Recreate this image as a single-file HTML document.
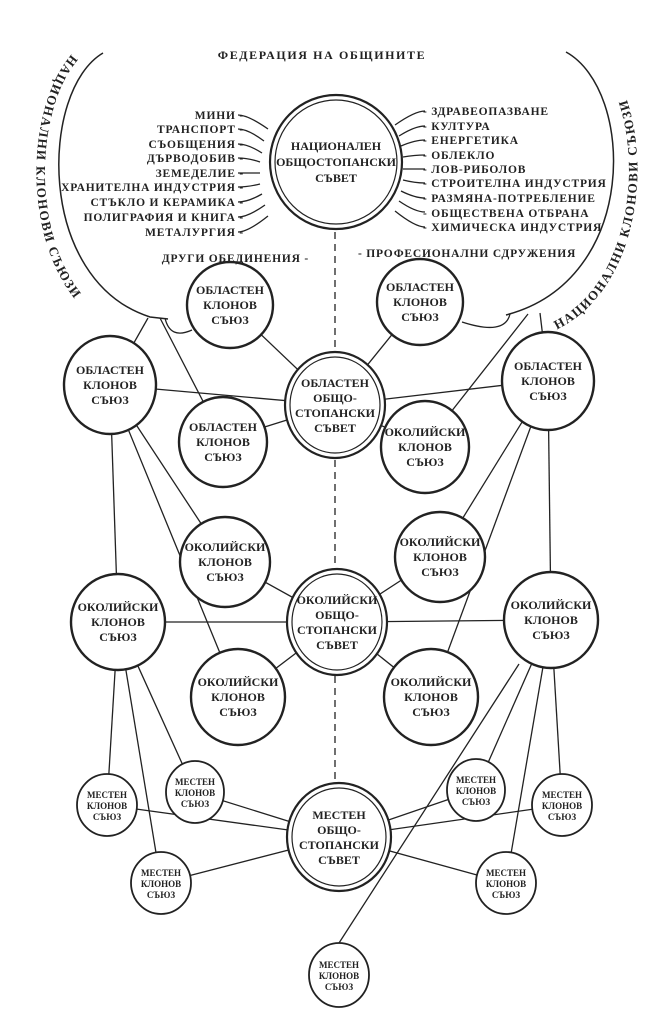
<!DOCTYPE html>
<html><head><meta charset="utf-8"><style>
html,body{margin:0;padding:0;background:#fff;}
svg{display:block;}
text{font-family:"Liberation Serif",serif;font-weight:bold;fill:#222;}
</style></head><body>
<svg width="670" height="1030" viewBox="0 0 670 1030" xmlns="http://www.w3.org/2000/svg">
<g stroke="#222" fill="none" stroke-width="1.3">
<path d="M103,53 C40,90 35,280 150,317 L168,319" stroke-width="1.5"/>
<path d="M566,52 C635,90 640,280 506,315" stroke-width="1.5"/>
<path d="M165,318 Q170,340 192,330"/>
<path d="M510,314 Q505,336 462,322"/>
<line x1="335" y1="232" x2="335" y2="790" stroke-dasharray="7,5"/>
<line x1="148" y1="318" x2="110" y2="385"/>
<line x1="160" y1="318" x2="223" y2="440"/>
<line x1="540" y1="313" x2="548" y2="380"/>
<line x1="528" y1="314" x2="425" y2="445"/>
<line x1="110" y1="385" x2="335" y2="405"/>
<line x1="548" y1="380" x2="335" y2="405"/>
<line x1="230" y1="305" x2="335" y2="405"/>
<line x1="420" y1="300" x2="335" y2="405"/>
<line x1="223" y1="440" x2="335" y2="405"/>
<line x1="425" y1="445" x2="335" y2="405"/>
<line x1="110" y1="385" x2="225" y2="560"/>
<line x1="110" y1="385" x2="238" y2="697"/>
<line x1="110" y1="385" x2="118" y2="622"/>
<line x1="548" y1="380" x2="440" y2="555"/>
<line x1="548" y1="380" x2="431" y2="697"/>
<line x1="548" y1="380" x2="551" y2="620"/>
<line x1="337" y1="622" x2="225" y2="560"/>
<line x1="337" y1="622" x2="440" y2="555"/>
<line x1="337" y1="622" x2="118" y2="622"/>
<line x1="337" y1="622" x2="551" y2="620"/>
<line x1="337" y1="622" x2="238" y2="697"/>
<line x1="337" y1="622" x2="431" y2="697"/>
<line x1="118" y1="622" x2="107" y2="805"/>
<line x1="118" y1="622" x2="161" y2="883"/>
<line x1="118" y1="622" x2="195" y2="792"/>
<line x1="551" y1="620" x2="476" y2="790"/>
<line x1="551" y1="620" x2="562" y2="805"/>
<line x1="551" y1="620" x2="506" y2="883"/>
<line x1="339" y1="837" x2="107" y2="805"/>
<line x1="339" y1="837" x2="161" y2="883"/>
<line x1="339" y1="837" x2="195" y2="792"/>
<line x1="339" y1="837" x2="476" y2="790"/>
<line x1="339" y1="837" x2="562" y2="805"/>
<line x1="339" y1="837" x2="506" y2="883"/>
<path d="M238,115 q10,0 30,14"/>
<path d="M238,129 q10,0 26,12"/>
<path d="M238,144 q10,0 24,9"/>
<path d="M238,158 q10,0 22,4"/>
<path d="M238,173 h22"/>
<path d="M238,187 q10,0 22,-3"/>
<path d="M238,202 q10,0 24,-8"/>
<path d="M238,217 q10,0 27,-12"/>
<path d="M238,232 q10,0 30,-16"/>
<path d="M425,111 q-10,0 -30,14"/>
<path d="M425,126 q-10,0 -26,10"/>
<path d="M425,140 q-10,0 -24,6"/>
<path d="M425,155 q-10,0 -22,2"/>
<path d="M425,169 h-22"/>
<path d="M425,183 q-10,0 -22,-3"/>
<path d="M425,198 q-10,0 -24,-7"/>
<path d="M425,212 q-10,0 -26,-11"/>
<path d="M425,227 q-10,0 -30,-16"/>
</g>

<g stroke="#222" fill="#fff">
<ellipse cx="336" cy="162" rx="66" ry="67" stroke-width="2.2"/>
<ellipse cx="336" cy="162" rx="61" ry="62" stroke-width="1.2"/>
<ellipse cx="230" cy="305" rx="43" ry="43" stroke-width="2.4"/>
<ellipse cx="420" cy="302" rx="43" ry="43" stroke-width="2.4"/>
<ellipse cx="110" cy="385" rx="46" ry="49" stroke-width="2.4"/>
<ellipse cx="548" cy="381" rx="46" ry="49" stroke-width="2.4"/>
<ellipse cx="335" cy="405" rx="50" ry="53" stroke-width="2.2"/>
<ellipse cx="335" cy="405" rx="45" ry="48" stroke-width="1.2"/>
<ellipse cx="223" cy="442" rx="44" ry="45" stroke-width="2.4"/>
<ellipse cx="425" cy="447" rx="44" ry="46" stroke-width="2.4"/>
<ellipse cx="225" cy="562" rx="45" ry="45" stroke-width="2.4"/>
<ellipse cx="440" cy="557" rx="45" ry="45" stroke-width="2.4"/>
<ellipse cx="118" cy="622" rx="47" ry="48" stroke-width="2.4"/>
<ellipse cx="337" cy="622" rx="50" ry="53" stroke-width="2.2"/>
<ellipse cx="337" cy="622" rx="45" ry="48" stroke-width="1.2"/>
<ellipse cx="551" cy="620" rx="47" ry="48" stroke-width="2.4"/>
<ellipse cx="238" cy="697" rx="47" ry="48" stroke-width="2.4"/>
<ellipse cx="431" cy="697" rx="47" ry="48" stroke-width="2.4"/>
<ellipse cx="339" cy="837" rx="52" ry="54" stroke-width="2.2"/>
<ellipse cx="339" cy="837" rx="47" ry="49" stroke-width="1.2"/>
<ellipse cx="107" cy="805" rx="30" ry="31" stroke-width="1.8"/>
<ellipse cx="195" cy="792" rx="29" ry="31" stroke-width="1.8"/>
<ellipse cx="161" cy="883" rx="30" ry="31" stroke-width="1.8"/>
<ellipse cx="476" cy="790" rx="29" ry="31" stroke-width="1.8"/>
<ellipse cx="562" cy="805" rx="30" ry="31" stroke-width="1.8"/>
<ellipse cx="506" cy="883" rx="30" ry="31" stroke-width="1.8"/>
<ellipse cx="339" cy="975" rx="30" ry="32" stroke-width="1.8"/>
</g>
<line x1="519" y1="664" x2="339" y2="943" stroke="#222" stroke-width="1.3"/>

<g font-size="11.5" letter-spacing="0.8">
<text x="322" y="59" text-anchor="middle" font-size="12" letter-spacing="1.6">ФЕДЕРАЦИЯ НА ОБЩИНИТЕ</text>
<g text-anchor="end">
<text x="244" y="119">МИНИ -</text>
<text x="244" y="133">ТРАНСПОРТ -</text>
<text x="244" y="148">СЪОБЩЕНИЯ -</text>
<text x="244" y="162">ДЪРВОДОБИВ -</text>
<text x="244" y="177">ЗЕМЕДЕЛИЕ -</text>
<text x="244" y="191">ХРАНИТЕЛНА ИНДУСТРИЯ -</text>
<text x="244" y="206">СТЪКЛО И КЕРАМИКА -</text>
<text x="244" y="221">ПОЛИГРАФИЯ И КНИГА -</text>
<text x="244" y="236">МЕТАЛУРГИЯ -</text>
<text x="309" y="262">ДРУГИ ОБЕДИНЕНИЯ -</text>
</g>
<text x="423" y="115">- ЗДРАВЕОПАЗВАНЕ</text>
<text x="423" y="130">- КУЛТУРА</text>
<text x="423" y="144">- ЕНЕРГЕТИКА</text>
<text x="423" y="159">- ОБЛЕКЛО</text>
<text x="423" y="173">- ЛОВ-РИБОЛОВ</text>
<text x="423" y="187">- СТРОИТЕЛНА ИНДУСТРИЯ</text>
<text x="423" y="202">- РАЗМЯНА-ПОТРЕБЛЕНИЕ</text>
<text x="423" y="217">- ОБЩЕСТВЕНА ОТБРАНА</text>
<text x="423" y="231">- ХИМИЧЕСКА ИНДУСТРИЯ</text>
<text x="358" y="257">- ПРОФЕСИОНАЛНИ СДРУЖЕНИЯ</text>
</g>
<path id="lt" d="M88,40 C15,85 12,300 128,336" fill="none"/>
<path id="rt" d="M540,336 C660,300 662,90 585,38" fill="none"/>
<text font-size="13" letter-spacing="1.5"><textPath href="#lt" startOffset="22">НАЦИОНАЛНИ  КЛОНОВИ  СЪЮЗИ</textPath></text>
<text font-size="13" letter-spacing="1.5"><textPath href="#rt" startOffset="18">НАЦИОНАЛНИ  КЛОНОВИ  СЪЮЗИ</textPath></text>

<g font-size="12" text-anchor="middle">
<text x="336" y="150">НАЦИОНАЛЕН</text><text x="336" y="166">ОБЩОСТОПАНСКИ</text><text x="336" y="182">СЪВЕТ</text>
<text x="230" y="294">ОБЛАСТЕН</text><text x="230" y="309">КЛОНОВ</text><text x="230" y="324">СЪЮЗ</text>
<text x="420" y="291">ОБЛАСТЕН</text><text x="420" y="306">КЛОНОВ</text><text x="420" y="321">СЪЮЗ</text>
<text x="110" y="374">ОБЛАСТЕН</text><text x="110" y="389">КЛОНОВ</text><text x="110" y="404">СЪЮЗ</text>
<text x="548" y="370">ОБЛАСТЕН</text><text x="548" y="385">КЛОНОВ</text><text x="548" y="400">СЪЮЗ</text>
<text x="335" y="387">ОБЛАСТЕН</text><text x="335" y="402">ОБЩО-</text><text x="335" y="417">СТОПАНСКИ</text><text x="335" y="432">СЪВЕТ</text>
<text x="223" y="431">ОБЛАСТЕН</text><text x="223" y="446">КЛОНОВ</text><text x="223" y="461">СЪЮЗ</text>
<text x="425" y="436">ОКОЛИЙСКИ</text><text x="425" y="451">КЛОНОВ</text><text x="425" y="466">СЪЮЗ</text>
<text x="225" y="551">ОКОЛИЙСКИ</text><text x="225" y="566">КЛОНОВ</text><text x="225" y="581">СЪЮЗ</text>
<text x="440" y="546">ОКОЛИЙСКИ</text><text x="440" y="561">КЛОНОВ</text><text x="440" y="576">СЪЮЗ</text>
<text x="118" y="611">ОКОЛИЙСКИ</text><text x="118" y="626">КЛОНОВ</text><text x="118" y="641">СЪЮЗ</text>
<text x="337" y="604">ОКОЛИЙСКИ</text><text x="337" y="619">ОБЩО-</text><text x="337" y="634">СТОПАНСКИ</text><text x="337" y="649">СЪВЕТ</text>
<text x="551" y="609">ОКОЛИЙСКИ</text><text x="551" y="624">КЛОНОВ</text><text x="551" y="639">СЪЮЗ</text>
<text x="238" y="686">ОКОЛИЙСКИ</text><text x="238" y="701">КЛОНОВ</text><text x="238" y="716">СЪЮЗ</text>
<text x="431" y="686">ОКОЛИЙСКИ</text><text x="431" y="701">КЛОНОВ</text><text x="431" y="716">СЪЮЗ</text>
<text x="339" y="819">МЕСТЕН</text><text x="339" y="834">ОБЩО-</text><text x="339" y="849">СТОПАНСКИ</text><text x="339" y="864">СЪВЕТ</text>
</g>
<g font-size="9" text-anchor="middle">
<text x="107" y="798">МЕСТЕН</text><text x="107" y="809">КЛОНОВ</text><text x="107" y="820">СЪЮЗ</text>
<text x="195" y="785">МЕСТЕН</text><text x="195" y="796">КЛОНОВ</text><text x="195" y="807">СЪЮЗ</text>
<text x="161" y="876">МЕСТЕН</text><text x="161" y="887">КЛОНОВ</text><text x="161" y="898">СЪЮЗ</text>
<text x="476" y="783">МЕСТЕН</text><text x="476" y="794">КЛОНОВ</text><text x="476" y="805">СЪЮЗ</text>
<text x="562" y="798">МЕСТЕН</text><text x="562" y="809">КЛОНОВ</text><text x="562" y="820">СЪЮЗ</text>
<text x="506" y="876">МЕСТЕН</text><text x="506" y="887">КЛОНОВ</text><text x="506" y="898">СЪЮЗ</text>
<text x="339" y="968">МЕСТЕН</text><text x="339" y="979">КЛОНОВ</text><text x="339" y="990">СЪЮЗ</text>
</g>
</svg>
</body></html>
